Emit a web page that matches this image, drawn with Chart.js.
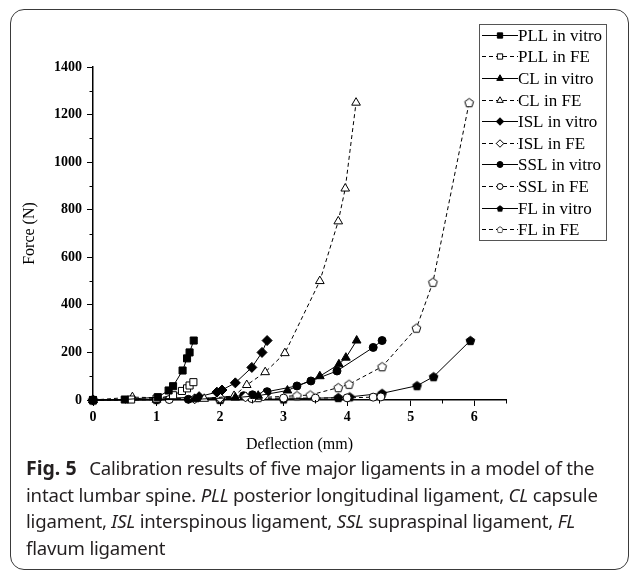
<!DOCTYPE html>
<html>
<head>
<meta charset="utf-8">
<script src="https://cdn.jsdelivr.net/npm/chart.js@4/dist/chart.umd.min.js"></script>
<style>
  html, body { margin: 0; padding: 0; background: #fff; }
  body { width: 630px; height: 573px; position: relative; overflow: hidden; }
  #frame {
    position: absolute; left: 10px; top: 9px; width: 619px; height: 561px;
    border: 1.5px solid #3a3a3a; border-radius: 14px; box-sizing: border-box;
  }
  #chart { position: absolute; left: 0; top: 0; }
  #caption {
    position: absolute; left: 26px; top: 455px; width: 600px;
    font-family: "Noto Sans", sans-serif; font-size: 18.6px; line-height: 26.5px;
    color: #231f20; white-space: nowrap; letter-spacing: -0.2px;
  }
  #caption b { font-weight: 700; font-size: 19.5px; margin-right: 8px; letter-spacing: 0; }
</style>
</head>
<body>
<div id="frame"></div>
<canvas id="chart" width="630" height="460"></canvas>
<div id="caption">
  <b>Fig. 5</b> Calibration results of five major ligaments in a model of the<br>
  intact lumbar spine. <i>PLL</i> posterior longitudinal ligament, <i>CL</i> capsule<br>
  ligament, <i>ISL</i> interspinous ligament, <i>SSL</i> supraspinal ligament, <i>FL</i><br>
  flavum ligament
</div>
<script>
// =========================
// 1. DATA
// =========================

const seriesLabels = [
  "PLL in vitro", "PLL in FE", "CL in vitro", "CL in FE", "ISL in vitro",
  "ISL in FE", "SSL in vitro", "SSL in FE", "FL in vitro", "FL in FE"
];

const pllVitroX = [0, 0.5, 1.02, 1.19, 1.26, 1.41, 1.48, 1.52, 1.585];
const pllVitroY = [0, 2, 12, 40, 58, 124, 175, 200, 250];

const pllFeX = [0, 0.6, 1.0, 1.26, 1.40, 1.48, 1.52, 1.58];
const pllFeY = [0, 2, 6, 20, 38, 49, 61, 75];

const clVitroX = [0, 1.0, 1.6, 2.24, 2.6, 3.06, 3.57, 3.87, 3.98, 4.15];
const clVitroY = [0, 1, 3, 10, 18, 40, 100, 150, 178, 250];

const clFeX = [0, 0.62, 1.75, 2.22, 2.42, 2.71, 3.02, 3.57, 3.86, 3.97, 4.14];
const clFeY = [0, 12, 5, 17, 63, 117, 197, 500, 751, 889, 1250];

const islVitroX = [0, 1.0, 1.67, 1.95, 2.03, 2.24, 2.5, 2.66, 2.74];
const islVitroY = [0, 3, 14, 33, 42, 72, 137, 200, 250];

const islFeX = [0, 1.0, 1.6, 2.0, 2.4, 2.68];
const islFeY = [0, 2, 5, 9, 13, 17];

const sslVitroX = [0, 1.5, 2.37, 2.51, 2.74, 3.21, 3.43, 3.84, 4.41, 4.55];
const sslVitroY = [0, 3, 18, 22, 35, 59, 80, 122, 221, 250];

const sslFeX = [0, 1.2, 2.0, 2.5, 3.0, 3.5, 4.0, 4.41, 4.53];
const sslFeY = [0, 2, 4, 6, 8, 8, 9, 12, 13];

const flVitroX = [0, 2.0, 3.0, 3.86, 4.04, 4.55, 5.1, 5.36, 5.94];
const flVitroY = [0, 2, 4, 10, 13, 28, 60, 98, 250];

const flFeX = [0, 1.0, 2.0, 2.6, 3.21, 3.42, 3.86, 4.03, 4.55, 5.09, 5.35, 5.92];
const flFeY = [0, 2, 5, 10, 18, 21, 52, 66, 140, 302, 495, 1250];

const xTicks = [0, 1, 2, 3, 4, 5, 6];
const yTicks = [0, 200, 400, 600, 800, 1000, 1200, 1400];

// =========================
// 2. MARKERS
// =========================

// Chart.js has no pentagon, so build one on a small canvas
function pentagon(fill, r) {
  const c = document.createElement("canvas");
  const s = Math.ceil(r * 2 + 3);
  c.width = s; c.height = s;
  const g = c.getContext("2d");
  g.beginPath();
  for (let k = 0; k < 5; k++) {
    const a = -Math.PI / 2 + k * 2 * Math.PI / 5;
    const px = s / 2 + r * Math.cos(a), py = s / 2 + 0.4 + r * Math.sin(a);
    k ? g.lineTo(px, py) : g.moveTo(px, py);
  }
  g.closePath();
  g.fillStyle = fill; g.fill();
  g.strokeStyle = "#000"; g.lineWidth = 1; g.stroke();
  return c;
}

const pentFilled = pentagon("#000", 4.6);
const pentOpen = pentagon("#fff", 4.6);

function pairs(xs, ys) {
  return xs.map((x, i) => ({ x: x, y: ys[i] }));
}

function series(i, xs, ys, style, radius, filled) {
  const fe = i % 2 === 1;
  return {
    label: seriesLabels[i],
    data: pairs(xs, ys),
    borderColor: "#000",
    borderWidth: 1,
    borderDash: fe ? [4, 3] : [],
    pointStyle: style,
    pointRadius: radius,
    pointBorderWidth: 1,
    pointBorderColor: "#000",
    pointBackgroundColor: filled ? "#000" : "#fff",
    fill: false,
    tension: 0,
    clip: false
  };
}

const datasets = [
  series(0, pllVitroX, pllVitroY, "rect", 5, true),
  series(1, pllFeX, pllFeY, "rect", 5, false),
  series(2, clVitroX, clVitroY, "triangle", 5, true),
  series(3, clFeX, clFeY, "triangle", 5, false),
  series(4, islVitroX, islVitroY, "rectRot", 5, true),
  series(5, islFeX, islFeY, "rectRot", 5, false),
  series(6, sslVitroX, sslVitroY, "circle", 4, true),
  series(7, sslFeX, sslFeY, "circle", 4, false),
  series(8, flVitroX, flVitroY, pentFilled, 5, true),
  series(9, flFeX, flFeY, pentOpen, 5, false)
];

// =========================
// 3. PLUGINS: minor ticks + boxed legend
// =========================

const minorTicks = {
  id: "minorTicks",
  afterDraw(chart) {
    const ctx = chart.ctx, xs = chart.scales.x, ys = chart.scales.y;
    ctx.save();
    ctx.strokeStyle = "#000";
    ctx.lineWidth = 1;
    ctx.beginPath();
    for (let v = 100; v < 1400; v += 200) {
      const py = Math.round(ys.getPixelForValue(v)) + 0.5;
      ctx.moveTo(xs.left - 3.5, py); ctx.lineTo(xs.left, py);
    }
    for (let v = 0.5; v <= 6.5; v += 1) {
      const px = Math.round(xs.getPixelForValue(v)) + 0.5;
      ctx.moveTo(px, ys.bottom); ctx.lineTo(px, ys.bottom + 3.5);
    }
    ctx.stroke();
    ctx.restore();
  }
};

const boxLegend = {
  id: "boxLegend",
  afterDraw(chart) {
    const ctx = chart.ctx;
    const left = 479, top = 24, w = 127, h = 216;
    const row = h / chart.data.datasets.length;
    ctx.save();
    ctx.strokeStyle = "#555";
    ctx.lineWidth = 1;
    ctx.strokeRect(left + 0.5, top + 0.5, w, h);
    ctx.font = "17px 'Liberation Serif', 'Times New Roman', serif";
    ctx.textBaseline = "middle";
    chart.data.datasets.forEach((ds, i) => {
      const y = Math.round(top + row * (i + 0.5)) + 0.5;
      ctx.strokeStyle = "#000";
      ctx.setLineDash(ds.borderDash);
      ctx.beginPath();
      ctx.moveTo(left + 3, y); ctx.lineTo(left + 39, y);
      ctx.stroke();
      ctx.setLineDash([]);
      const cx = left + 21;
      if (ds.pointStyle instanceof HTMLCanvasElement) {
        ctx.drawImage(ds.pointStyle, cx - 4.5, y - 4.5, 9, 9);
      } else {
        ctx.fillStyle = ds.pointBackgroundColor;
        Chart.helpers.drawPoint(ctx, {
          pointStyle: ds.pointStyle, radius: ds.pointRadius * 0.75, borderWidth: 1, rotation: 0
        }, cx, y);
      }
      ctx.fillStyle = "#000";
      ctx.fillText(ds.label, left + 39, y + 1);
    });
    ctx.restore();
  }
};

// =========================
// 4. CHART
// =========================

const tickFont = { family: "'Liberation Serif', 'Times New Roman', serif", size: 14, weight: "bold" };
const titleFont = { family: "'Liberation Serif', 'Times New Roman', serif", size: 16 };

new Chart(document.getElementById("chart"), {
  type: "line",
  data: { datasets: datasets },
  plugins: [minorTicks, boxLegend],
  options: {
    responsive: false,
    animation: false,
    layout: { padding: { left: 0, top: 67, right: 124, bottom: 0 } },
    plugins: { legend: { display: false }, tooltip: { enabled: false } },
    scales: {
      x: {
        type: "linear",
        min: 0,
        max: 6.5,
        afterBuildTicks: (s) => { s.ticks = xTicks.map(v => ({ value: v })); },
        afterFit: (s) => { s.height = 60; },
        ticks: { font: tickFont, color: "#000", padding: 3, maxRotation: 0, callback: (v) => String(v) },
        grid: { drawOnChartArea: false, tickLength: 6, tickColor: "#000", tickWidth: 1 },
        border: { color: "#000", width: 1.5 },
        title: { display: true, text: "Deflection (mm)", font: titleFont, color: "#000", padding: { top: 0, bottom: 6 } }
      },
      y: {
        type: "linear",
        min: 0,
        max: 1400,
        afterBuildTicks: (s) => { s.ticks = yTicks.map(v => ({ value: v })); },
        afterFit: (s) => { s.width = 93; },
        ticks: { font: tickFont, color: "#000", padding: 5, callback: (v) => String(v) },
        grid: { drawOnChartArea: false, tickLength: 6, tickColor: "#000", tickWidth: 1 },
        border: { color: "#000", width: 1.5 },
        title: { display: true, text: "Force (N)", font: titleFont, color: "#000", padding: { top: 20, bottom: 0 } }
      }
    }
  }
});
</script>
</body>
</html>
